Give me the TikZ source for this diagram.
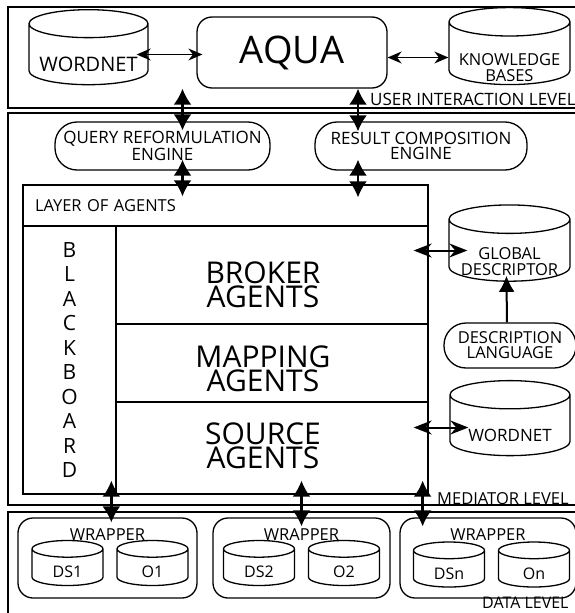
\documentclass[tikz,border=0pt]{standalone}
\usepackage{fontspec}
\setmainfont{Open Sans}
\usetikzlibrary{shapes.geometric, arrows.meta, positioning}

% text of a cylinder: lowered, in a box as wide as the cylinder
\newcommand{\dbtxt}[3]{\raisebox{#1}[\height][\depth]{\makebox[#2]{\begin{tabular}{@{}c@{}}#3\end{tabular}}}}

\tikzset{
    levelbox/.style={
        draw, line width=1.6pt
    },
    roundbox/.style={
        draw, line width=1.3pt, rounded corners=15pt, align=center, inner sep=0pt
    },
    dbnode/.style={
        cylinder, shape border rotate=90, draw, line width=1.3pt,
        aspect=0.235, inner sep=0pt, font=\fontsize{16.5}{15}\selectfont
    },
    secbox/.style={
        draw, line width=1.3pt, inner sep=0pt
    },
    levellabel/.style={
        font=\fontsize{16.5}{16.5}\selectfont, anchor=west, inner sep=0pt
    }
}

\begin{document}
\begin{tikzpicture}[
        x=1pt, y=-1pt,
        % text styles
        bigtext/.style={font=\fontsize{30}{24}\selectfont, align=center},
        enginebox/.style={roundbox, rounded corners=22pt, font=\fontsize{17}{15}\selectfont},
        % links
        vlink/.style={{Latex[length=16pt,width=18pt]}-{Latex[length=16pt,width=18pt]}, line width=2.4pt},
        hlink/.style={{Stealth[length=14pt,width=12pt]}-{Stealth[length=14pt,width=12pt]}, line width=1.4pt},
        blink/.style={{Stealth[length=18pt,width=14pt]}-{Stealth[length=18pt,width=14pt]}, line width=2pt}
    ]
    \clip (0,0) rectangle (575,613);

    % --- 1. LEVELS ---
    \draw[levelbox] (8,7) rectangle (590,108);
    \draw[levelbox] (8,113) rectangle (590,505);
    \draw[levelbox] (8,512) rectangle (590,630);
    \node[levellabel, font=\fontsize{17}{17}\selectfont] (userlbl) at (370,99) {USER INTERACTION LEVEL};
    \node[levellabel] (medlbl) at (437,499) {MEDIATOR LEVEL};
    \node[levellabel, font=\fontsize{16}{16}\selectfont] (datalbl) at (482,603) {DATA LEVEL};

    % --- 2. USER INTERACTION LEVEL ---
    \node[roundbox, minimum width=190pt, minimum height=71pt,
          font=\fontsize{38}{38}\selectfont] (aqua) at (292,52.5) {AQUA};
    \node[dbnode, minimum width=119pt, minimum height=75pt,
          font=\fontsize{20}{20}\selectfont] (wn1) at (88.5,54.5) {\dbtxt{-13pt}{119pt}{WORDNET}};
    \node[dbnode, minimum width=121pt, minimum height=77pt] (kb) at (509.5,53.5)
        {\dbtxt{-16pt}{121pt}{KNOWLEDGE\\BASES}};

    % --- 3. MEDIATOR LEVEL ---
    \node[enginebox, minimum width=215pt, minimum height=48pt] (qre) at (162.5,146)
        {QUERY REFORMULATION\\ENGINE};
    \node[enginebox, minimum width=212pt, minimum height=48pt] (rce) at (421,146)
        {RESULT COMPOSITION\\ENGINE};

    % layer of agents
    \node[secbox, minimum width=405pt, minimum height=41pt, text width=381pt,
          font=\fontsize{16.5}{16.5}\selectfont] (layerhead) at (225.5,205.5) {LAYER OF AGENTS};
    \node[secbox, minimum width=93pt, minimum height=268pt, align=center,
          font=\fontsize{21}{24.5}\selectfont] (bb) at (69.5,360)
        {B\\L\\A\\C\\K\\B\\O\\A\\R\\D};
    \node[secbox, minimum width=312pt, minimum height=98pt] (broker) at (272,275) {};
    \node[secbox, minimum width=312pt, minimum height=78pt] (mapping) at (272,363) {};
    \node[secbox, minimum width=312pt, minimum height=92pt] (source) at (272,448) {};
    \node[bigtext] (brokert) at (263,285) {BROKER\\AGENTS};
    \node[bigtext] (mappingt) at (263,369) {MAPPING\\AGENTS};
    \node[bigtext] (sourcet) at (263,446) {SOURCE\\AGENTS};

    % right column
    \node[dbnode, minimum width=121pt, minimum height=75pt] (gd) at (509.5,250.5)
        {\dbtxt{-13pt}{121pt}{GLOBAL\\DESCRIPTOR}};
    \node[enginebox, minimum width=132pt, minimum height=45pt,
          font=\fontsize{16.5}{15}\selectfont] (dl) at (510,345.5) {DESCRIPTION\\LANGUAGE};
    \node[dbnode, minimum width=120pt, minimum height=75pt,
          font=\fontsize{17}{17}\selectfont] (wn2) at (510,425.5) {\dbtxt{-12pt}{120pt}{WORDNET}};

    % --- 4. DATA LEVEL ---
    \node[roundbox, minimum width=179pt, minimum height=80pt] (w1) at (107.5,558) {};
    \node[roundbox, minimum width=177pt, minimum height=80pt] (w2) at (301.5,558) {};
    \node[roundbox, minimum width=176pt, minimum height=80pt] (w3) at (488,558) {};
    \foreach \w in {w1,w2,w3}
        \node[font=\fontsize{16.5}{16.5}\selectfont, inner sep=0pt, below=11pt of \w.north] (\w t) {WRAPPER};
    \foreach \d/\x/\y/\txt in {ds1/67.5/567.5/DS1, o1/152.5/567.5/O1, ds2/259/567.5/DS2,
                              o2/344/567.5/O2, dsn/449/569/DSn, on/534/569/On}
        \node[dbnode, minimum width=71pt, minimum height=45pt,
              font=\fontsize{16}{16}\selectfont] (\d) at (\x,\y) {\dbtxt{-7pt}{71pt}{\txt}};

    % --- 5. LINKS ---
    \draw[hlink, shorten <=-12pt, shorten >=-6pt] (wn1.east) -- (wn1.east -| aqua.west);
    \draw[hlink] ([yshift=-5pt]aqua.east) -- ([yshift=-5pt]aqua.east -| kb.west);
    \draw[vlink, shorten >=-9pt] ([xshift=20pt]qre.north |- aqua.south) -- ([xshift=20pt]qre.north);
    \draw[vlink, shorten >=-10pt] ([xshift=-63pt]rce.north |- aqua.south) -- ([xshift=-63pt]rce.north);
    \draw[vlink, shorten <=-11pt, shorten >=-12pt] ([xshift=20pt]qre.south) -- ([xshift=20pt]qre.south |- layerhead.north);
    \draw[vlink, shorten <=-11pt, shorten >=-13pt] ([xshift=-63pt]rce.south) -- ([xshift=-63pt]rce.south |- layerhead.north);
    \draw[blink, shorten <=-15pt, shorten >=-19pt] (gd.west -| broker.east) -- (gd.west);
    \draw[blink, shorten <=-15pt, shorten >=-19pt] ([yshift=-2pt]wn2.west -| source.east) -- ([yshift=-2pt]wn2.west);
    \draw[-{Latex[length=16pt,width=16pt]}, line width=2pt, shorten >=-6pt] ([xshift=-3pt]dl.north) -- ([xshift=-3pt]gd.south);
    \draw[vlink, shorten <=-14pt, shorten >=-5pt] ([xshift=-4pt]source.south west) -- ([xshift=-4pt]source.south west |- w1.north);
    \draw[vlink, shorten <=-14pt, shorten >=-9pt] (w2.north |- source.south) -- (w2.north);
    \draw[vlink, shorten <=-14pt, shorten >=-9pt] ([xshift=-6pt]source.south east) -- ([xshift=-6pt]source.south east |- w3.north);

\end{tikzpicture}
\end{document}
